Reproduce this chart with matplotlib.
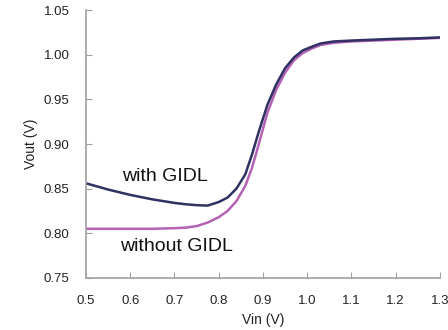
import numpy as np
import matplotlib.pyplot as plt

# Inverter transfer curves, with and without GIDL
vin = [0.5, 0.55, 0.6, 0.65, 0.7, 0.725, 0.75, 0.775, 0.8, 0.82, 0.84, 0.86,
       0.875, 0.89, 0.91, 0.93, 0.95, 0.97, 0.99, 1.01, 1.03, 1.06, 1.1, 1.15,
       1.2, 1.25, 1.3]
vout_gidl = [0.856, 0.849, 0.843, 0.838, 0.834, 0.8325, 0.8315, 0.831, 0.835,
             0.840, 0.850, 0.866, 0.888, 0.913, 0.944, 0.967, 0.985, 0.997,
             1.005, 1.009, 1.0127, 1.015, 1.016, 1.017, 1.018, 1.0185, 1.0195]
vout_nogidl = [0.805, 0.805, 0.805, 0.805, 0.8057, 0.8063, 0.808, 0.812, 0.818,
               0.825, 0.836, 0.853, 0.873, 0.899, 0.935, 0.961, 0.980, 0.994,
               1.002, 1.007, 1.011, 1.0135, 1.015, 1.016, 1.017, 1.018, 1.019]

plt.rcParams['font.family'] = ['Liberation Sans', 'DejaVu Sans']

fig = plt.figure(figsize=(4.48, 3.3), dpi=100)
ax = fig.add_axes([0.192, 0.158, 0.790, 0.811])

ax.plot(vin, vout_nogidl, color='#b462b4', lw=1.8, solid_joinstyle='round')
ax.plot(vin, vout_gidl, color='#2f3163', lw=1.8, solid_joinstyle='round')

ax.text(0.581, 0.8589, 'with GIDL', fontsize=14, color='#111111', va='baseline')
ax.text(0.578, 0.7797, 'without GIDL', fontsize=14, color='#111111', va='baseline')

ax.set_xlim(0.5, 1.3)
ax.set_ylim(0.75, 1.05)
ax.set_xticks(np.arange(0.5, 1.31, 0.1))
ax.set_yticks(np.arange(0.75, 1.051, 0.05))
ax.set_xticklabels(['%.1f' % v for v in np.arange(0.5, 1.31, 0.1)])
ax.set_yticklabels(['%.2f' % v for v in np.arange(0.75, 1.051, 0.05)])

for s in ['top', 'right']:
    ax.spines[s].set_visible(False)
for s in ['left', 'bottom']:
    ax.spines[s].set_color('#a0a0a0')
    ax.spines[s].set_linewidth(1.2)
ax.tick_params(direction='in', length=4, color='#a0a0a0', labelsize=9.5,
               labelcolor='#222222')
ax.tick_params(axis='x', pad=12)
ax.tick_params(axis='y', pad=12)

ax.set_xlabel('Vin (V)', fontsize=10, color='#222222', labelpad=5)
ax.set_ylabel('Vout (V)', fontsize=10, color='#222222', labelpad=4)

fig.savefig('out.png', dpi=100)
